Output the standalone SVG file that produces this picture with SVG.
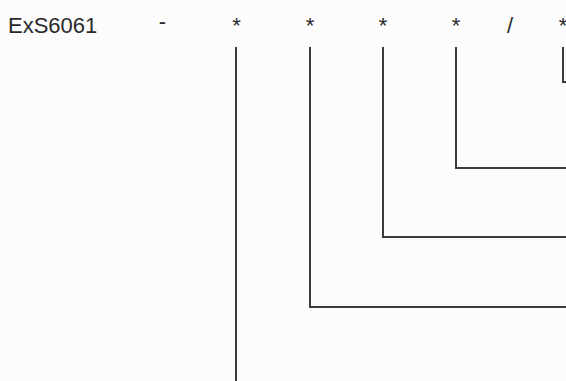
<svg xmlns="http://www.w3.org/2000/svg" width="566" height="381" viewBox="0 0 566 381">
<style>
text{font-family:"Liberation Sans",Arial,sans-serif;font-size:22px;fill:#2a2a2a}
.c{text-anchor:middle}
.ln{fill:none;stroke:#3a3a3a;stroke-width:2}
</style>
<rect width="566" height="381" fill="#fcfcfc"/>
<g id="label"><text x="8" y="33">ExS6061</text></g>
<g id="minus"><text class="c" x="162.5" y="28.5">-</text></g>
<g id="op1"><text class="c" x="236.5" y="33">*</text></g>
<g id="op2"><text class="c" x="310" y="33">*</text></g>
<g id="op3"><text class="c" x="383" y="33">*</text></g>
<g id="op4"><text class="c" x="456" y="33">*</text></g>
<g id="div"><text class="c" x="510" y="33">/</text></g>
<g id="op5"><text class="c" x="563" y="33">*</text></g>
<g id="connectors">
<path class="ln" d="M236,47V381"/>
<path class="ln" d="M310,47V307H566"/>
<path class="ln" d="M383,47V237H566"/>
<path class="ln" d="M456,47V168H566"/>
<path class="ln" d="M563,47V82H566"/>
</g>
</svg>
